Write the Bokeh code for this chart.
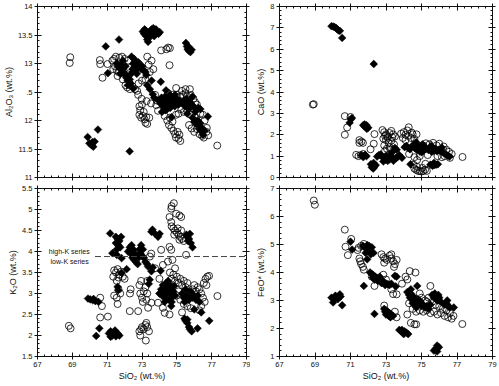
import numpy as np
from bokeh.plotting import figure
from bokeh.models import Range1d, FixedTicker, LinearAxis, CustomJSTickFormatter
from bokeh.layouts import gridplot
from bokeh.core.properties import value
from bokeh.embed import file_html
from bokeh.resources import INLINE

FONT = "Liberation Sans"
INK = "#111111"

# ---------------- Data ----------------
# Panel 1: Al2O3 vs SiO2
al_fill_si = [73.05, 73.12, 73.2, 73.25, 73.3, 73.35, 73.4, 73.45, 73.55, 73.65, 73.72, 73.8, 73.88, 73.95, 74.02, 73.6, 73.7, 73.15,
              75.52, 75.58, 75.62, 75.7, 75.78, 75.85, 75.66,
              70.92, 71.68, 71.04, 72.29,
              71.55, 71.62, 71.7, 71.8, 71.88, 71.95, 72.02, 72.1, 72.18, 72.25, 72.15, 72.3, 72.35, 72.45, 72.5, 72.55, 72.6, 72.65,
              72.72, 72.8, 72.88, 72.95, 73.02, 73.1, 73.2, 73.25, 72.4, 71.9, 72.05, 72.7, 72.38, 72.2, 71.75,
              72.5, 73.3, 73.45, 73.62, 73.7, 74.08, 74.38, 73.55,
              73.95, 74.05, 74.12, 74.2, 74.25, 74.32, 74.4, 74.45, 74.5, 74.55, 74.62, 74.68, 74.75, 74.8, 74.88, 74.95, 75.02,
              75.1, 75.18, 74.35, 74.15, 74.6, 74.9,
              75.3, 75.4, 75.48, 75.55, 75.62, 75.7, 75.75, 75.85, 75.9, 75.95, 76.05, 76.25, 75.6,
              75.9, 76.0, 76.1, 76.2, 76.25, 76.3, 76.4, 76.45, 76.5, 76.6, 76.35, 76.78, 76.35,
              74.7, 69.88, 69.98, 70.1, 70.2, 70.28, 70.15, 70.47]
al_fill_y = [13.56, 13.52, 13.58, 13.48, 13.42, 13.38, 13.45, 13.55, 13.6, 13.62, 13.58, 13.6, 13.55, 13.52, 13.55, 13.52, 13.48, 13.6,
             13.36, 13.3, 13.25, 13.22, 13.2, 13.24, 13.3,
             13.3, 13.42, 12.83, 11.46,
             13.0, 12.95, 12.92, 12.98, 12.9, 12.85, 12.8, 12.75, 12.7, 12.68, 12.78, 12.72, 12.65, 12.9, 13.0, 13.08, 12.95, 12.88,
             12.98, 13.02, 12.95, 12.9, 12.95, 12.88, 12.85, 12.8, 13.12, 13.05, 12.95, 12.82, 12.82, 12.62, 12.82,
             12.56, 12.62, 12.55, 12.46, 12.4, 12.68, 12.53, 12.7,
             12.35, 12.3, 12.4, 12.25, 12.35, 12.42, 12.3, 12.2, 12.38, 12.28, 12.22, 12.35, 12.3, 12.4, 12.25, 12.32, 12.38,
             12.28, 12.34, 12.18, 12.15, 12.45, 12.45,
             12.3, 12.35, 12.25, 12.38, 12.3, 12.2, 12.33, 12.28, 12.42, 12.25, 12.15, 12.22, 12.12,
             12.05, 11.98, 11.95, 12.0, 11.9, 11.85, 11.88, 11.8, 11.75, 11.82, 11.95, 12.07, 12.2,
             12.06, 11.71, 11.6, 11.57, 11.54, 11.63, 11.62, 11.84]
al_open_si = [68.88, 68.85, 70.58, 70.6, 70.73, 71.02,
              71.3, 71.4, 71.5, 71.45, 71.55, 71.65, 71.7, 71.85, 72.0, 72.2, 72.3, 71.35, 71.6, 71.9, 72.05, 72.15, 72.3, 72.45, 72.6,
              73.3, 73.55, 73.65, 73.38, 73.2, 73.45, 73.0, 72.8,
              74.1, 74.4, 74.6, 74.5, 74.58,
              72.72, 72.78, 72.98, 73.26, 73.52,
              72.85, 72.9, 72.85, 72.95, 73.05, 73.15, 73.2, 73.3, 73.25, 73.42, 73.1, 73.0,
              73.82, 73.92, 74.96,
              74.3, 74.45, 74.55, 74.68, 74.8, 74.9, 74.95, 75.1, 75.2, 75.15, 75.05, 74.6, 74.75,
              75.7, 75.85, 76.0, 76.15, 76.3, 76.45, 76.55, 76.7, 76.8, 76.72, 76.5,
              74.5, 74.75, 75.0, 75.2, 75.35, 75.5, 75.6, 75.8, 75.95, 76.05, 76.15, 75.25, 75.4, 75.55, 75.1, 74.95, 75.8, 76.1,
              76.35, 76.6, 76.5, 75.75, 75.5, 75.3, 73.85, 73.75,
              77.32]
al_open_y = [13.11, 13.01, 13.06, 12.99, 12.75, 12.99,
             13.05, 13.08, 13.12, 12.95, 12.88, 12.85, 13.1, 13.12, 13.08, 13.05, 12.92, 12.9, 12.78, 12.72, 12.62, 12.58, 12.55, 12.6, 12.55,
             13.12, 13.05, 12.9, 12.98, 12.72, 12.85, 12.7, 12.65,
             13.23, 13.25, 13.27, 13.28, 12.97,
             12.52, 12.45, 12.38, 12.34, 12.3,
             12.25, 12.18, 12.1, 12.05, 12.08, 12.02, 11.96, 11.94, 12.06, 12.05, 12.15, 12.28,
             12.27, 12.17, 12.57,
             12.08, 12.0, 11.92, 11.87, 11.82, 11.76, 11.7, 11.68, 11.64, 11.75, 11.8, 12.05, 11.98,
             11.92, 11.86, 11.8, 11.85, 11.76, 11.73, 11.7, 11.8, 11.74, 11.87, 11.82,
             12.48, 12.45, 12.45, 12.42, 12.45, 12.48, 12.42, 12.45, 12.38, 12.32, 12.28, 12.2, 12.15, 12.2, 12.12, 12.1, 12.1, 12.05,
             12.12, 12.0, 12.1, 12.55, 12.55, 12.52, 12.35, 12.45,
             11.56]

# Panel 2: CaO vs SiO2
ca_fill_si = [69.93, 70.03, 70.1, 70.18, 70.25, 70.32, 70.4, 70.53, 72.31,
              70.95, 71.02, 71.08,
              71.72, 71.78, 71.85, 71.92, 72.0, 71.9, 71.8,
              71.62, 71.72, 71.82, 71.9,
              72.15, 72.2, 72.28, 72.35, 72.42, 72.3,
              72.5, 72.6, 72.7, 72.8, 72.9, 73.0, 73.1, 73.2, 73.3, 73.42, 73.55, 73.65, 73.75, 73.9, 73.35, 73.5, 73.6, 73.0, 72.85, 73.25,
              74.38,
              74.05, 74.15, 74.25, 74.35, 74.45, 74.55, 74.62, 74.72, 74.8, 74.9, 75.0, 75.1, 75.2, 75.3, 75.4, 75.5, 75.58, 75.68,
              75.78, 75.88, 75.98, 76.08, 76.18, 76.28, 76.38, 76.48, 76.58, 74.7, 75.05, 75.55, 76.15,
              75.5, 75.62, 75.72, 75.82, 75.92, 75.7]
ca_fill_y = [7.08, 7.06, 7.04, 7.0, 6.94, 6.88, 6.86, 6.53, 5.31,
             2.56, 2.72, 2.78,
             2.45, 2.4, 2.35, 2.28, 2.33, 2.45, 2.48,
             1.04, 0.95, 1.06, 1.0,
             0.62, 0.48, 0.42, 0.5, 0.58, 0.68,
             0.98, 1.05, 1.08, 0.95, 0.9, 0.82, 0.78, 0.85, 0.92, 0.78, 0.9, 0.95, 1.05, 0.92, 1.18, 1.38, 1.3, 1.02, 0.75, 1.05,
             0.62,
             1.42, 1.48, 1.38, 1.32, 1.45, 1.52, 1.38, 1.3, 1.42, 1.22, 1.18, 1.25, 1.4, 1.35, 1.28, 1.32, 1.2, 1.25,
             1.35, 1.22, 1.3, 1.25, 1.2, 1.12, 1.08, 1.02, 0.98, 1.65, 1.55, 1.48, 1.4,
             0.6, 0.55, 0.58, 0.6, 0.62, 0.68]
ca_open_si = [68.93, 68.88,
              70.68, 71.0, 70.81, 70.68,
              71.5, 71.62, 71.7, 71.5, 71.32, 71.45, 71.58, 71.72,
              72.35, 72.31, 72.13,
              72.8, 72.9, 73.0, 73.1, 73.2, 73.3, 73.4, 73.5, 72.85, 73.0, 73.15, 73.3, 73.45, 72.9, 73.05, 73.2, 72.95, 73.1, 72.95,
              73.35, 73.25, 73.55,
              73.85, 74.0, 74.1, 74.25, 74.4, 74.5, 74.6, 74.28, 74.45, 74.72, 74.1, 73.95, 74.2,
              74.3, 74.6, 74.75, 74.9, 75.1, 75.25, 75.45, 75.65, 75.85, 76.0, 76.25, 76.4, 76.55, 76.7, 76.6, 76.3, 75.35, 75.9,
              76.15, 74.65, 74.95,
              74.6, 74.7, 74.8, 74.9, 75.0, 75.1, 75.2, 75.3, 75.05, 74.75, 75.22, 74.55,
              77.31]
ca_open_y = [3.43, 3.41,
             2.87, 2.83, 2.34, 2.0,
             1.75, 1.68, 1.62, 1.62, 1.06, 1.0, 1.05, 1.1,
             2.03, 1.58, 1.32,
             2.22, 2.12, 2.02, 1.92, 2.08, 2.18, 2.02, 1.92, 1.82, 1.75, 1.62, 1.72, 1.55, 1.5, 1.35, 1.42, 1.25, 1.85, 1.95,
             1.88, 1.3, 1.15,
             2.05, 2.12, 2.0, 1.95, 1.85, 2.02, 1.8, 2.35, 2.1, 2.02, 1.75, 1.85, 2.2,
             1.1, 0.95, 0.82, 1.0, 1.5, 1.6, 1.55, 1.62, 1.5, 1.58, 1.45, 1.3, 1.2, 1.1, 0.92, 1.0, 1.05, 1.0,
             0.95, 1.55, 1.45,
             0.42, 0.36, 0.31, 0.3, 0.28, 0.3, 0.36, 0.31, 0.45, 0.5, 0.64, 0.6,
             0.96]

# Panel 3: K2O vs SiO2
k_fill_si = [69.9, 70.03, 70.17, 70.32, 70.5, 70.22,
             70.37, 70.55,
             71.1, 71.2, 71.3, 71.4, 71.5, 71.6, 71.7, 71.2, 71.45, 71.55,
             71.17,
             71.5, 71.6, 71.7, 71.5, 71.65, 71.8, 71.75, 71.55,
             71.3, 71.55, 71.83, 72.12, 71.83, 71.64, 71.6,
             72.3, 72.4, 72.5, 72.6, 72.7, 72.8, 72.9, 73.0, 73.1, 72.45, 72.55, 72.65, 72.75, 73.2, 73.3, 72.35, 72.85, 72.95,
             73.05, 72.2,
             73.54, 73.73, 73.92, 74.01, 73.6,
             73.35, 73.44, 73.54, 74.07, 73.39, 73.62,
             74.0, 74.1, 74.15, 74.2, 74.25, 74.3, 74.35, 74.4, 74.45, 74.5, 74.55, 74.6, 74.65, 74.7, 74.75, 74.8, 74.85, 74.9,
             74.3, 74.5, 74.7, 74.68,
             75.55, 75.6, 75.7, 75.8, 75.9, 75.65, 75.75,
             75.3, 75.4, 75.5, 75.6, 75.7, 75.8, 75.9, 76.0, 76.1, 76.2, 76.3, 75.45, 76.4, 76.0,
             75.44, 75.5, 75.6, 75.7, 75.75, 75.85, 75.6,
             76.19, 76.86]
k_fill_y = [2.88, 2.86, 2.84, 2.82, 2.8, 2.87,
            1.99, 2.17,
            2.05, 2.1, 2.0, 2.08, 1.98, 2.05, 2.0, 1.97, 2.12, 2.02,
            4.43,
            4.35, 4.3, 4.25, 4.2, 4.15, 4.35, 4.1, 4.05,
            3.96, 3.92, 3.84, 3.58, 3.49, 3.08, 3.16,
            4.1, 4.15, 4.05, 3.95, 3.9, 3.85, 3.95, 3.9, 3.85, 3.85, 3.8, 3.75, 3.7, 3.75, 3.7, 3.95, 4.05, 4.15,
            4.05, 4.0,
            4.47, 4.43, 4.35, 4.42, 4.52,
            3.64, 3.33, 3.53, 3.54, 3.23, 3.62,
            3.0, 3.1, 2.95, 3.2, 3.05, 2.9, 3.15, 3.25, 3.0, 3.1, 2.85, 3.2, 3.0, 3.1, 2.92, 3.05, 3.18, 2.95,
            2.8, 3.3, 2.8, 2.7,
            4.4, 4.35, 4.3, 4.2, 4.1, 4.25, 4.42,
            3.0, 2.9, 3.1, 2.95, 2.85, 3.05, 2.9, 2.95, 2.85, 2.95, 2.8, 2.8, 2.55, 2.62,
            2.4, 2.35, 2.3, 2.2, 2.15, 2.1, 2.38,
            2.17, 2.35]
k_open_si = [68.8, 68.9, 70.6, 70.7, 70.6, 71.04,
             71.4, 71.5, 71.6, 71.7, 71.8, 71.9, 72.0, 71.35, 71.55, 71.65,
             71.4, 71.55, 71.65, 71.75, 71.6,
             72.3, 72.31, 72.35,
             72.85, 72.9, 73.0, 73.1, 73.2, 73.3, 72.95, 73.05, 73.25,
             72.78,
             72.85, 72.9, 73.0, 73.1, 73.2, 73.3, 73.4, 73.25, 72.95,
             73.22,
             73.35, 73.54, 73.92, 74.2, 74.3, 74.58,
             73.45, 73.53, 74.1, 74.58, 74.68, 74.49, 74.2, 73.75, 74.0, 73.3,
             74.68, 74.83, 74.7, 74.96, 75.15, 75.25, 74.58, 74.68,
             74.7, 74.8, 74.9, 75.0, 75.1, 75.2, 75.3, 74.85, 75.05, 75.25, 75.4, 75.15,
             75.53,
             74.6, 74.7, 74.8, 74.9, 75.0, 75.1, 75.2, 75.3, 75.4, 75.5, 75.6, 75.1, 75.0, 75.2, 75.4, 75.6, 75.8, 75.7, 75.9,
             76.0, 76.1, 76.2, 76.3, 76.4, 76.5, 76.55, 76.65, 76.75, 76.85, 76.7, 76.6, 76.4, 76.3, 75.3, 74.9, 74.75,
             77.33]
k_open_y = [2.23, 2.17, 2.9, 2.7, 2.43, 2.45,
            3.55, 3.5, 3.58, 3.45, 3.52, 3.4, 3.35, 3.4, 3.3, 3.38,
            2.95, 2.9, 3.1, 3.0, 2.75,
            2.58, 3.0, 3.1,
            3.2, 3.0, 2.9, 3.05, 3.15, 3.0, 3.3, 2.8, 2.85,
            2.58,
            2.1, 2.0, 2.2, 2.15, 2.25, 2.2, 2.1, 2.3, 2.15,
            1.88,
            2.66, 2.78, 2.78, 2.66, 2.54, 2.5,
            3.88, 3.95, 4.04, 4.11, 4.04, 3.76, 3.68, 3.6, 3.35, 3.3,
            5.02, 5.15, 5.08, 4.9, 4.86, 4.82, 4.82, 4.7,
            4.6, 4.55, 4.5, 4.45, 4.4, 4.35, 4.3, 4.4, 4.55, 4.5, 4.25, 4.28,
            3.92,
            3.5, 3.35, 3.45, 3.3, 3.4, 3.25, 3.35, 3.2, 3.3, 3.15, 3.25, 3.05, 2.95, 2.85, 2.75, 2.7, 2.65, 2.95, 3.1,
            3.2, 3.05, 3.15, 3.1, 3.0, 2.9, 3.25, 3.35, 3.4, 3.42, 3.2, 2.8, 2.7, 2.6, 2.55, 3.6, 3.8,
            2.94]
k_divide = [3.88, 3.88]
k_divide_si = [70.3, 79.0]

# Panel 4: FeO* vs SiO2
fe_fill_si = [69.93, 70.02, 70.15, 70.29, 70.44, 70.4, 70.53, 70.08,
              71.0, 71.09,
              71.7, 71.8, 71.9, 72.0, 72.1, 72.2, 72.3, 71.85, 72.05, 72.15, 71.95,
              71.94, 71.75, 72.35,
              72.1, 72.2, 72.3, 72.4, 72.5, 72.6, 72.7, 72.8, 72.9, 73.0, 73.1, 73.2, 72.35, 72.55, 72.75, 72.95, 73.3, 72.25, 72.65,
              73.5, 73.6, 73.55, 74.76,
              72.9, 73.0, 73.1, 73.2, 73.3, 73.0, 73.15, 73.4, 72.95, 73.25,
              73.75, 73.85, 73.95, 74.05, 74.15, 74.25, 73.9, 74.0,
              74.2, 74.3, 74.35, 74.4, 74.45, 74.5, 74.55, 74.6, 74.65, 74.7, 74.75, 74.8, 74.85, 74.9, 74.95, 75.0, 75.1, 75.2,
              75.3, 74.4, 74.5, 74.7, 75.4, 75.5,
              75.6, 75.7, 75.8, 75.9, 76.0, 76.1, 75.75, 75.95,
              76.3, 76.4, 76.5, 76.6, 76.82, 76.45,
              75.88, 75.79, 75.7, 75.88, 75.98, 75.85]
fe_fill_y = [3.1, 2.93, 3.17, 3.05, 3.14, 3.22, 2.83, 3.05,
             5.1, 4.82,
             4.95, 4.9, 4.85, 4.8, 4.75, 4.9, 4.7, 4.7, 4.95, 4.65, 4.98,
             4.47, 3.52, 2.52,
             4.0, 3.95, 3.9, 3.85, 3.8, 3.78, 3.75, 3.7, 3.65, 3.6, 3.58, 3.55, 3.75, 3.7, 3.62, 3.55, 3.6, 3.82, 3.85,
             3.88, 3.85, 3.5, 3.52,
             2.7, 2.65, 2.6, 2.55, 2.5, 2.5, 2.45, 2.45, 2.6, 2.4,
             1.95, 1.9, 1.85, 1.9, 1.85, 1.8, 1.95, 1.8,
             3.3, 3.2, 3.1, 3.25, 3.05, 3.15, 2.95, 3.1, 3.0, 2.9, 3.05, 2.95, 2.85, 3.0, 2.9, 2.8, 2.85, 2.75,
             2.8, 3.4, 2.9, 2.75, 2.7, 2.85,
             3.2, 3.1, 3.15, 3.0, 3.1, 2.95, 3.25, 3.2,
             2.85, 2.9, 2.8, 2.75, 2.75, 3.0,
             1.39, 1.27, 1.21, 1.18, 1.33, 1.3]
fe_open_si = [68.93, 68.99,
              70.68, 70.72, 70.85, 71.04,
              71.45, 71.5, 71.55, 71.6, 71.7, 71.75, 71.6, 71.75, 71.4,
              72.75, 72.85, 72.95, 73.05, 73.2, 73.3, 73.4, 73.5, 73.6, 72.9, 73.3, 73.45,
              72.35, 73.0, 73.3, 73.4, 73.6, 72.2, 72.85,
              74.34, 74.66, 74.2, 74.1, 73.9,
              72.9, 74.2, 74.4, 74.6, 74.7, 73.6, 73.5,
              75.5,
              74.3, 74.5, 74.7, 74.9, 75.1, 75.3, 75.5, 75.7, 75.9, 76.1, 76.3, 76.5, 76.7, 76.8, 75.2, 75.4, 75.6, 75.8, 76.0,
              76.2, 76.4, 76.6, 75.0, 74.9, 75.3,
              77.3]
fe_open_y = [6.57, 6.42,
             5.53, 4.92, 4.62, 5.2,
             4.88, 4.5, 4.4, 4.3, 4.2, 4.1, 4.95, 5.02, 4.8,
             4.65, 4.55, 4.5, 4.45, 4.6, 4.5, 4.4, 4.3, 4.45, 4.35, 4.65, 4.2,
             3.52, 3.75, 3.4, 3.23, 3.22, 3.85, 3.92,
             4.05, 4.0, 3.75, 3.85, 3.6,
             2.82, 2.5, 2.2, 2.15, 2.15, 2.4, 2.6,
             3.52,
             2.9, 2.7, 2.6, 2.65, 2.6, 2.65, 2.55, 2.6, 2.5, 2.55, 2.45, 2.4, 2.35, 2.45, 3.0, 3.1, 2.95, 2.85, 2.8,
             2.7, 2.65, 2.55, 3.1, 3.25, 2.95,
             2.16]

x_ticks = [67, 69, 71, 73, 75, 77, 79]

# ---------------- Layout helpers ----------------
def style_axis(ax, labels=True, label_text=None):
    ax.axis_line_color = INK
    ax.major_tick_line_color = INK
    ax.minor_tick_line_color = INK
    ax.major_tick_in = 4
    ax.major_tick_out = 3
    ax.minor_tick_in = 2
    ax.minor_tick_out = 0
    ax.major_label_text_font = FONT
    ax.major_label_text_color = INK
    ax.major_label_standoff = 2
    if labels:
        ax.major_label_text_font_size = "7.5px"
    else:
        ax.formatter = CustomJSTickFormatter(code="return ''")
        ax.major_label_text_font_size = "0px"
        ax.major_label_standoff = 0
    if label_text:
        ax.axis_label = label_text
        ax.axis_label_text_font = FONT
        ax.axis_label_text_font_size = "9px"
        ax.axis_label_text_font_style = "normal"
        ax.axis_label_text_color = INK
        ax.axis_label_standoff = 1


def minor_list(lo, hi, step):
    return list(np.round(np.arange(lo, hi + 1e-9, step), 3))


def panel(width, height, yr, yticks, yminor, ylabel, xlabel, borders, ovr=None):
    bl, br, bt, bb = borders
    p = figure(width=width, height=height, x_range=Range1d(67, 79), y_range=Range1d(*yr),
               output_backend="svg", toolbar_location=None,
               min_border_left=bl, min_border_right=br, min_border_top=bt, min_border_bottom=bb,
               background_fill_color="white", border_fill_color="white")
    p.grid.visible = False
    p.outline_line_color = INK
    xt = FixedTicker(ticks=x_ticks, minor_ticks=minor_list(67, 79, 0.4))
    yt = FixedTicker(ticks=yticks, minor_ticks=yminor)
    p.xaxis.ticker = xt
    p.yaxis.ticker = yt
    style_axis(p.xaxis[0], labels=xlabel is not None, label_text=xlabel)
    style_axis(p.yaxis[0], labels=True, label_text=ylabel)
    if ovr:
        p.yaxis[0].major_label_overrides = ovr
    top = LinearAxis(ticker=xt)
    right = LinearAxis(ticker=yt)
    style_axis(top, labels=False)
    style_axis(right, labels=False)
    p.add_layout(top, "above")
    p.add_layout(right, "right")
    return p


def draw(p, osi, oy, fsi, fy):
    p.scatter(osi, oy, marker="circle", size=7, fill_color=None, line_color="black", line_width=0.8)
    p.scatter(fsi, fy, marker="square", angle=np.pi / 4, size=5.5, fill_color="black", line_color="black",
              line_width=0.5)


WL, WR = 250, 248
HT, HB = 182, 203

p1 = panel(WL, HT, (11, 14), minor_list(11, 14, 0.5), minor_list(11, 14, 0.1),
           "Al\u2082O\u2083 (wt.%)", None, (35, 4, 6, 5), ovr={12.5: ".5"})
draw(p1, al_open_si, al_open_y, al_fill_si, al_fill_y)

p2 = panel(WR, HT, (0, 8), minor_list(0, 8, 1), minor_list(0, 8, 0.2),
           "CaO (wt.%)", None, (29, 6, 6, 5))
draw(p2, ca_open_si, ca_open_y, ca_fill_si, ca_fill_y)

p3 = panel(WL, HB, (1.5, 5.5), minor_list(1.5, 5.5, 0.5), minor_list(1.5, 5.5, 0.1),
           "K\u2082O (wt.%)", "SiO\u2082 (wt.%)", (35, 4, 6, 29))
draw(p3, k_open_si, k_open_y, k_fill_si, k_fill_y)
p3.line(k_divide_si, k_divide, line_color="#444444", line_width=1, line_dash="6 3")
p3.text(x=[67.65, 67.75], y=[4.0, 3.76], text=["high-K series", "low-K series"],
        text_font=value(FONT), text_font_size="7px", text_color=INK, text_baseline="middle",
        text_align="left")

p4 = panel(WR, HB, (1, 7), minor_list(1, 7, 1), minor_list(1, 7, 0.2),
           "FeO* (wt.%)", "SiO\u2082 (wt.%)", (29, 6, 6, 29))
draw(p4, fe_open_si, fe_open_y, fe_fill_si, fe_fill_y)

grid = gridplot([[p1, p2], [p3, p4]], toolbar_location=None)

open("out.html", "w").write(file_html(grid, INLINE))
